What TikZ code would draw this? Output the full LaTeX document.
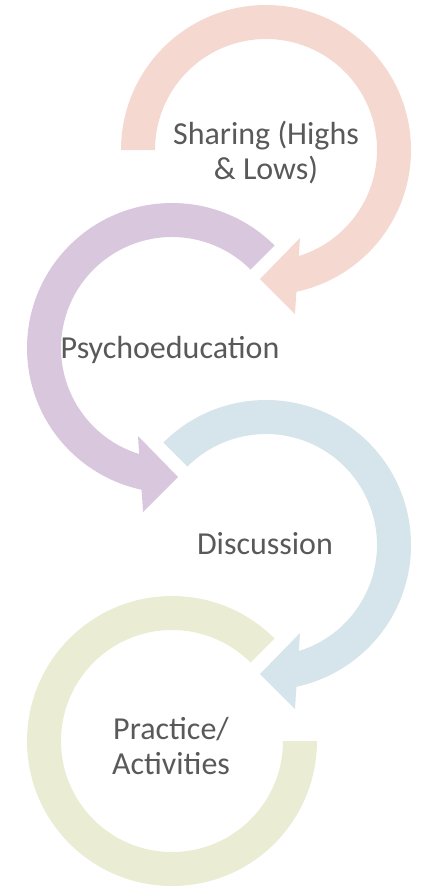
\documentclass[tikz,border=0pt]{standalone}
\usepackage{fontspec}
\setmainfont{Carlito}
\definecolor{sharingpink}{RGB}{245,217,208}
\definecolor{psychopurple}{RGB}{217,199,222}
\definecolor{discussblue}{RGB}{214,228,235}
\definecolor{practicegreen}{RGB}{234,237,212}
\definecolor{labelgray}{RGB}{89,89,89}

\begin{document}
\begin{tikzpicture}[x=1pt, y=1pt,
  every node/.style={font=\fontsize{32}{35}\selectfont, text=labelgray, align=center},
  circarrow/.pic={
    \fill[pic actions] (#1:145) arc[start angle=#1, end angle=-77.9, radius=145]
      -- (29,-164) -- (-6,-129) -- (34,-88)
      -- (-72.8:111) arc[start angle=-72.8, end angle=#1, radius=111] -- cycle;
  }]
  \useasboundingbox (0,0) rectangle (424,-886);
  \coordinate (c1) at (266,-150);
  \coordinate (c2) at (172,-348);
  \coordinate (c3) at (266,-545);
  \coordinate (c4) at (172,-741);

  \pic[fill=sharingpink] at (c1) {circarrow=180};
  \pic[fill=psychopurple, xscale=-1] at (c2) {circarrow=135};
  \pic[fill=discussblue] at (c3) {circarrow=135};
  \fill[practicegreen] ([shift={(45:145)}]c4) arc[start angle=45, end angle=360, radius=145]
    -- ([shift={(0:111)}]c4) arc[start angle=360, end angle=45, radius=111] -- cycle;

  \node (sharing) at (266,-153) {Sharing (Highs\\\& Lows)};
  \node[anchor=base] (psycho) at (170,-358) {Psychoeducation};
  \node[anchor=base] (discussion) at (265,-554) {Discussion};
  \node (practice) at (171,-746) {Practice/\\Activities};
\end{tikzpicture}
\end{document}
